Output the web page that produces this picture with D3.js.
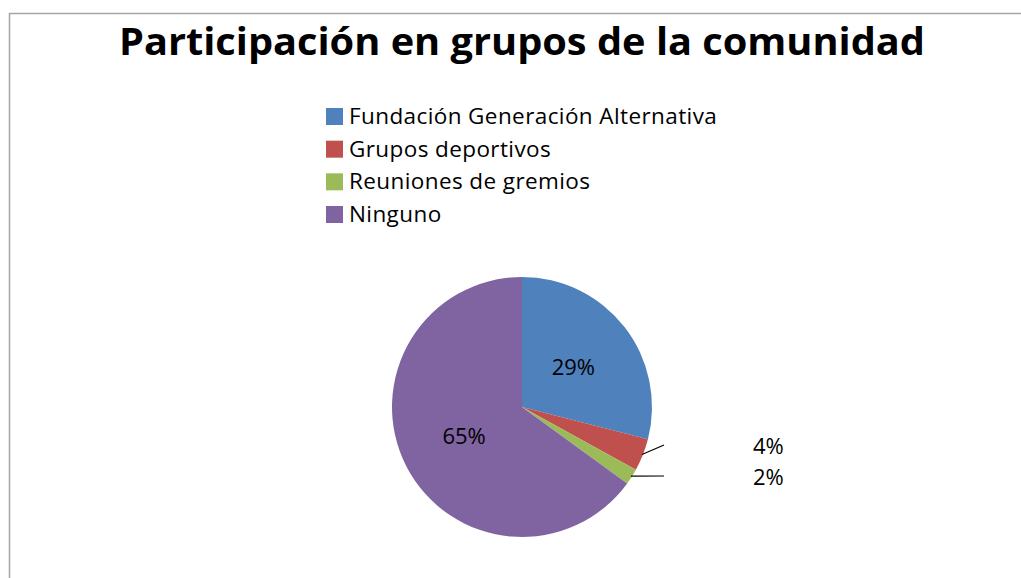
<!DOCTYPE html>
<html>
<head>
<meta charset="utf-8">
<script src="https://cdn.jsdelivr.net/npm/d3@7"></script>
<style>
  html, body { margin: 0; padding: 0; background: #fff; }
  svg { display: block; }
  text { font-family: "Open Sans", "Noto Sans", "Liberation Sans", sans-serif; fill: #000; }
</style>
</head>
<body>
<svg id="chart" width="1021" height="578"></svg>
<script>
const title = "Participación en grupos de la comunidad";
const categories = ["Fundación Generación Alternativa", "Grupos deportivos", "Reuniones de gremios", "Ninguno"];
const values = [29, 4, 2, 65];
const pctLabels = ["29%", "4%", "2%", "65%"];
const colors = ["#4F81BD", "#C0504D", "#9BBB59", "#8064A2"];

const W = 1021, H = 578;
const svg = d3.select("#chart");

// chart area border (extends past right/bottom edges)
svg.append("rect")
  .attr("x", 9.5).attr("y", 13.5)
  .attr("width", W + 20).attr("height", H + 20)
  .attr("fill", "#fff").attr("stroke", "#a6a6a6").attr("stroke-width", 1.5);

// title
svg.append("text")
  .attr("x", 522).attr("y", 55)
  .attr("text-anchor", "middle")
  .attr("font-size", 38).attr("font-weight", "bold")
  .attr("textLength", 806).attr("lengthAdjust", "spacingAndGlyphs")
  .text(title);

// legend
const legend = svg.append("g").attr("transform", "translate(326,0)");
const legendY = d3.scalePoint().domain(categories).range([116, 214]);
const lg = legend.selectAll("g.item").data(categories).join("g")
  .attr("class", "item")
  .attr("transform", d => `translate(0,${legendY(d)})`);
lg.append("rect")
  .attr("x", 0).attr("y", -8).attr("width", 17).attr("height", 17)
  .attr("fill", (d, i) => colors[i]);
lg.append("text")
  .attr("x", 23).attr("y", 0).attr("dy", "0.36em")
  .attr("font-size", 22.5)
  .attr("letter-spacing", 0.4)
  .text(d => d);

// pie
const cx = 522, cy = 407, R = 130;
const pie = d3.pie().sort(null).value(d => d)(values);
const arc = d3.arc().innerRadius(0).outerRadius(R);
const g = svg.append("g").attr("transform", `translate(${cx},${cy})`);
g.selectAll("path").data(pie).join("path")
  .attr("d", arc)
  .attr("fill", (d, i) => colors[i]);

// inside labels
const inner = d3.arc().innerRadius(R * 0.5).outerRadius(R * 0.5);
pie.forEach((d, i) => {
  if (values[i] >= 10) {
    const [x, y] = inner.centroid(d);
    g.append("text")
      .attr("x", x).attr("y", y).attr("dy", "0.36em")
      .attr("text-anchor", "middle")
      .attr("font-size", 22)
      .text(pctLabels[i]);
  }
});

// outside labels with leader lines
const lineEndX = 142, textX = 231;
const endY = { 1: 38, 2: 69 };
pie.forEach((d, i) => {
  if (values[i] < 10) {
    const a = (d.startAngle + d.endAngle) / 2;
    const sx = Math.sin(a) * (R - 1), sy = -Math.cos(a) * (R - 1);
    g.append("line")
      .attr("x1", sx).attr("y1", sy)
      .attr("x2", lineEndX).attr("y2", endY[i])
      .attr("stroke", "#000").attr("stroke-width", 1.2);
    g.append("text")
      .attr("x", textX).attr("y", endY[i] + 1).attr("dy", "0.36em")
      .attr("font-size", 22)
      .text(pctLabels[i]);
  }
});
</script>
</body>
</html>
